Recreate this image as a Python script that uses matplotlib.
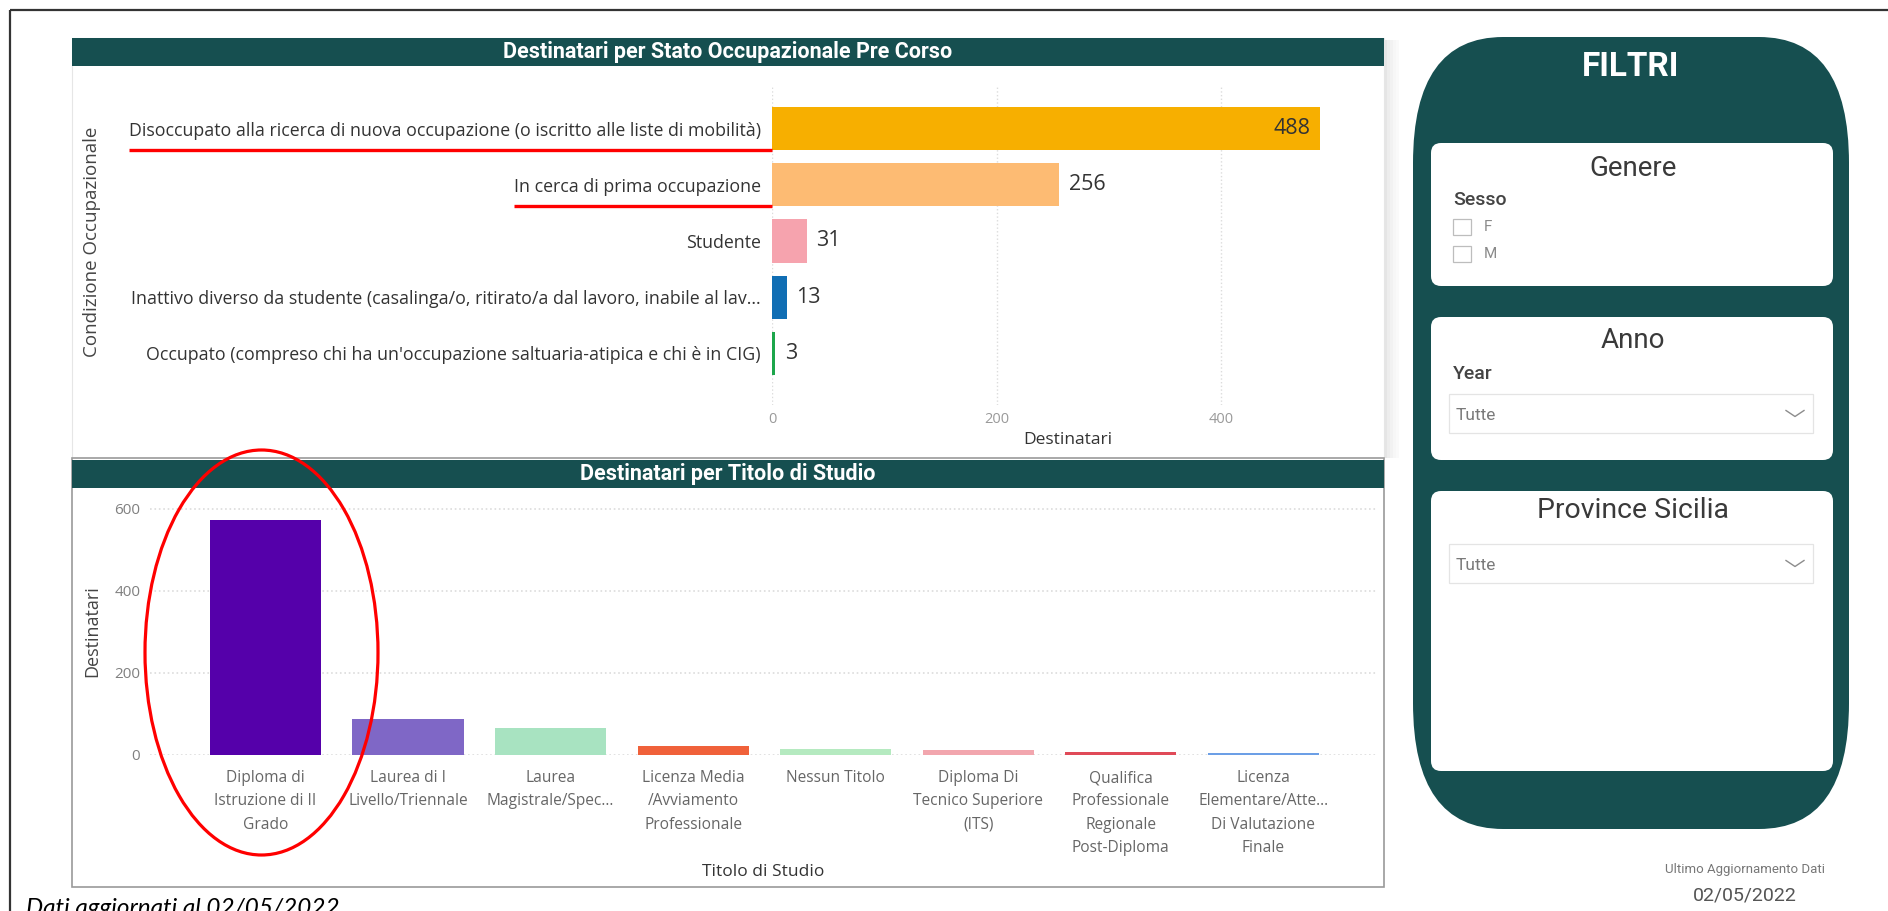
import numpy as np
import matplotlib
matplotlib.use('Agg')
import matplotlib.pyplot as plt
from matplotlib.patches import FancyBboxPatch, Rectangle, Ellipse

# chart data
stato_labels = ['Disoccupato alla ricerca di nuova occupazione (o iscritto alle liste di mobilità)',
                'In cerca di prima occupazione',
                'Studente',
                'Inattivo diverso da studente (casalinga/o, ritirato/a dal lavoro, inabile al lav...',
                "Occupato (compreso chi ha un'occupazione saltuaria-atipica e chi è in CIG)"]
stato_values = [488, 256, 31, 13, 3]
stato_colors = ['#F7AF00', '#FDBB73', '#F6A3AE', '#106EB4', '#1CA64B']
stato_ticks = [0, 200, 400]

titolo_labels = ['Diploma di\nIstruzione di II\nGrado',
                 'Laurea di I\nLivello/Triennale',
                 'Laurea\nMagistrale/Spec...',
                 'Licenza Media\n/Avviamento\nProfessionale',
                 'Nessun Titolo',
                 'Diploma Di\nTecnico Superiore\n(ITS)',
                 'Qualifica\nProfessionale\nRegionale\nPost-Diploma',
                 'Licenza\nElementare/Atte...\nDi Valutazione\nFinale']
titolo_values = [572, 89, 66, 23, 15, 12, 8, 6]
titolo_colors = ['#5500AA', '#7F67C6', '#A8E3C1', '#F0613A', '#B5EAC0', '#F2A6AE', '#E04A58', '#6C9FE6']
titolo_ticks = [0, 200, 400, 600]

TEAL = '#164F50'
W, H = 1888, 911
FONT = 'Open Sans'
UI = 'Roboto'


def box(x0, y0, x1, y1):
    # pixel box (top-left origin) -> figure fraction
    return [x0 / W, 1 - y1 / H, (x1 - x0) / W, (y1 - y0) / H]


fig = plt.figure(figsize=(W / 100, H / 100), dpi=100, facecolor='white')

# background layer in pixel coordinates
bg = fig.add_axes([0, 0, 1, 1], zorder=0)
bg.set_xlim(0, W)
bg.set_ylim(H, 0)
bg.axis('off')

bg.add_patch(Rectangle((10, 10), 1920, 940, fill=False, ec='#333333', lw=1.6))

# top panel with a soft shadow on the right
for k, a in enumerate([0.10, 0.07, 0.05, 0.03, 0.02]):
    bg.add_patch(Rectangle((1384 + 3 * k, 40), 3, 418, fc='black', ec='none', alpha=a))
bg.add_patch(Rectangle((72, 38), 1312, 420, fc='white', ec='#e6e6e6', lw=0.8))
bg.add_patch(Rectangle((72, 38), 1312, 28, fc=TEAL, ec='none'))
bg.text(728, 52, 'Destinatari per Stato Occupazionale Pre Corso', color='white', fontsize=15.5,
        fontweight='bold', family=UI, ha='center', va='center')

# bottom panel
bg.add_patch(Rectangle((72, 458), 1312, 429, fc='white', ec='#9a9a9a', lw=1.2))
bg.add_patch(Rectangle((72, 460), 1312, 28, fc=TEAL, ec='none'))
bg.text(728, 474, 'Destinatari per Titolo di Studio', color='white', fontsize=15.5,
        fontweight='bold', family=UI, ha='center', va='center')

bg.text(26, 915, 'Dati aggiornati al 02/05/2022', fontsize=17.5, style='italic', family='Lato',
        color='black', ha='left', va='baseline')

# filter panel
bg.add_patch(FancyBboxPatch((1413, 37), 436, 792, boxstyle='round,pad=0,rounding_size=90',
                            mutation_aspect=1.4, fc=TEAL, ec='none'))
bg.text(1631, 67, 'FILTRI', color='white', fontsize=24, fontweight='bold', family=UI,
        ha='center', va='center')
for (y0, y1) in [(143, 286), (317, 460), (491, 771)]:
    bg.add_patch(FancyBboxPatch((1431, y0), 402, y1 - y0, boxstyle='round,pad=0,rounding_size=10',
                                fc='white', ec='none'))

bg.text(1633, 168, 'Genere', fontsize=20, family=UI, color='#3a3a3a', ha='center', va='center')
bg.text(1453, 200, 'Sesso', fontsize=14, family=UI, fontweight='medium', color='#444444',
        ha='left', va='center')
for yy, lab in [(227, 'F'), (254, 'M')]:
    bg.add_patch(Rectangle((1453, yy - 8), 18, 16, fill=False, ec='#bdbdbd', lw=0.9))
    bg.text(1484, yy, lab, fontsize=11, family=UI, color='#8a8a8a', ha='left', va='center')

bg.text(1633, 340, 'Anno', fontsize=20, family=UI, color='#3a3a3a', ha='center', va='center')
bg.text(1453, 374, 'Year', fontsize=14, family=UI, fontweight='medium', color='#444444',
        ha='left', va='center')

bg.text(1633, 511, 'Province Sicilia', fontsize=20.5, family=UI, color='#3a3a3a', ha='center',
        va='center')

for (y0, y1) in [(394, 433), (544, 583)]:
    bg.add_patch(Rectangle((1449, y0), 364, y1 - y0, fill=False, ec='#e4e4e4', lw=0.9))
    bg.text(1456, (y0 + y1) / 2 + 2, 'Tutte', fontsize=12.5, family=UI, color='#7a7a7a',
            ha='left', va='center')
    yc = (y0 + y1) / 2
    bg.plot([1786, 1795, 1804], [yc - 3, yc + 3, yc - 3], color='#8c8c8c', lw=1)

bg.text(1745, 870, 'Ultimo Aggiornamento Dati', fontsize=9.5, family=UI, color='#777777',
        ha='center', va='center')
bg.text(1745, 896, '02/05/2022', fontsize=14, family=UI, color='#555555',
        ha='center', va='center')

# ---- horizontal bar chart: stato occupazionale
ax1 = fig.add_axes(box(772, 87, 1340, 405), zorder=2)
ax1.patch.set_alpha(0)
pos1 = np.arange(len(stato_values))
ax1.barh(pos1, stato_values, height=0.77, color=stato_colors)
ax1.set_ylim(4.916, -0.738)
ax1.set_xlim(0, 506)
ax1.set_xticks(stato_ticks)
ax1.set_yticks(pos1)
ax1.set_yticklabels(stato_labels, fontsize=12.8, family=FONT, color='#333333')
for lab in ax1.get_xticklabels():
    lab.set_fontsize(10.5)
    lab.set_family(FONT)
    lab.set_color('#9a9a9a')
ax1.tick_params(axis='y', length=0, pad=8)
ax1.tick_params(axis='x', length=0, pad=5)
ax1.grid(axis='x', color='#dcdcdc', linestyle=':', lw=1)
ax1.set_axisbelow(True)
for s in ax1.spines.values():
    s.set_visible(False)
for i, v in enumerate(stato_values):
    if v > 400:
        ax1.annotate(str(v), (v, i), xytext=(-7, 0), textcoords='offset points', ha='right',
                     va='center', fontsize=15.5, family=FONT, color='#333333')
    else:
        ax1.annotate(str(v), (v, i), xytext=(7, 0), textcoords='offset points', ha='left',
                     va='center', fontsize=15.5, family=FONT, color='#333333')
ax1.set_xlabel('Destinatari', fontsize=12.5, family=FONT, color='#333333')
ax1.xaxis.set_label_coords(0.52, -0.11)
ax1.xaxis.label.set_va('center')
ax1.set_ylabel('Condizione Occupazionale', fontsize=13.5, family=FONT, color='#444444')
ax1.yaxis.set_label_coords(-1.197, 0.513)
ax1.yaxis.label.set_va('center')

# ---- vertical bar chart: titolo di studio
ax2 = fig.add_axes(box(150, 502, 1376, 755), zorder=2)
ax2.patch.set_alpha(0)
pos2 = np.arange(len(titolo_values))
ax2.bar(pos2, titolo_values, width=0.78, color=titolo_colors)
ax2.set_xlim(-0.81, 7.79)
ax2.set_ylim(0, 617)
ax2.set_yticks(titolo_ticks)
ax2.set_xticks(pos2)
ax2.set_xticklabels(titolo_labels, fontsize=11.2, family=FONT, color='#666666', linespacing=1.6)
for lab in ax2.get_yticklabels():
    lab.set_fontsize(11)
    lab.set_family(FONT)
    lab.set_color('#808080')
ax2.tick_params(axis='x', length=0, pad=11)
ax2.tick_params(axis='y', length=0, pad=7)
ax2.grid(axis='y', color='#dcdcdc', linestyle=':', lw=1.2)
ax2.set_axisbelow(True)
for s in ax2.spines.values():
    s.set_visible(False)
ax2.set_xlabel('Titolo di Studio', fontsize=12.5, family=FONT, color='#333333')
ax2.xaxis.set_label_coords(0.5, -0.462)
ax2.xaxis.label.set_va('center')
ax2.set_ylabel('Destinatari', fontsize=13, family=FONT, color='#444444')
ax2.yaxis.set_label_coords(-0.047, 0.49)
ax2.yaxis.label.set_va('center')

# ---- red annotations on top
ov = fig.add_axes([0, 0, 1, 1], zorder=10)
ov.patch.set_alpha(0)
ov.set_xlim(0, W)
ov.set_ylim(H, 0)
ov.axis('off')
ov.add_patch(Ellipse((261.5, 652.5), 233, 405, fill=False, ec='#FF0000', lw=2.3))

fig.canvas.draw()
renderer = fig.canvas.get_renderer()
for i in [0, 1]:
    bb = ax1.get_yticklabels()[i].get_window_extent(renderer)
    _, ydisp = ax1.transData.transform((0, i + 0.385))
    x_axis, _ = ax1.transData.transform((0, 0))
    ov.plot([bb.x0, x_axis], [H - ydisp, H - ydisp], color='#FF0000', lw=2.4,
            solid_capstyle='butt')

fig.savefig('out.png', dpi=100, facecolor='white')
